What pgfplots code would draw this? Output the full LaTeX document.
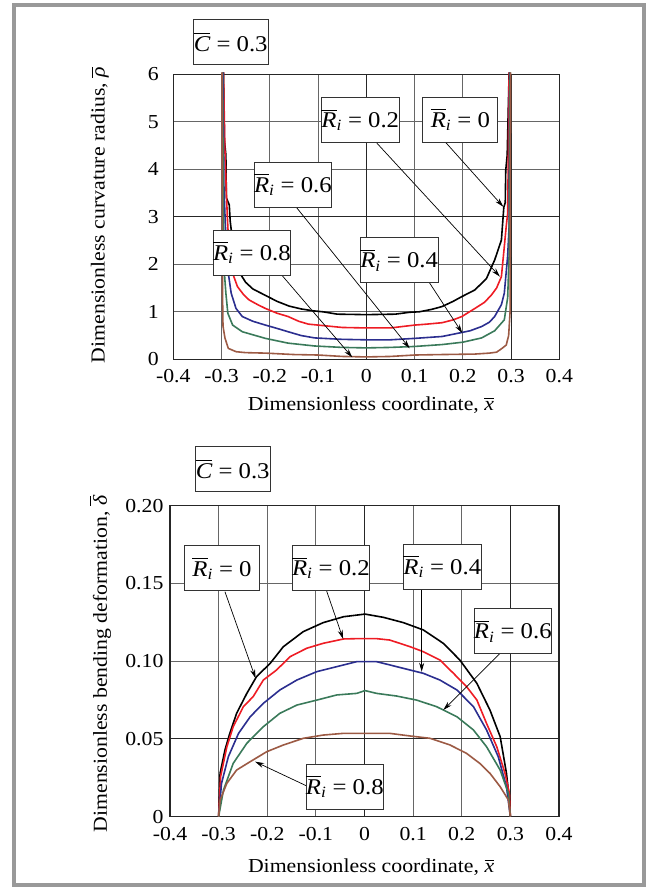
\documentclass[border=0pt]{standalone}
\usepackage{fontspec}
\setmainfont{Liberation Serif}[FakeStretch=1.1]
\usepackage{amsmath}
\usepackage{pgfplots}
\pgfplotsset{compat=1.18}
\usetikzlibrary{arrows.meta}

\definecolor{cred}{RGB}{238,28,36}
\definecolor{cblue}{RGB}{43,46,143}
\definecolor{cgreen}{RGB}{58,122,90}
\definecolor{cbrown}{RGB}{156,90,68}
\definecolor{frame}{RGB}{153,153,153}

\newcommand{\bigfont}{\fontsize{19.8}{22}\selectfont}
\newcommand{\boxfont}{\fontsize{22.5}{25}\selectfont}
\newcommand{\Ri}{$\overline{\text{\itshape R}}_{\text{\itshape i}}$}

\pgfplotsset{
  curves/.style={
    scale only axis,
    xmin=-0.4, xmax=0.4,
    xtick={-0.4,-0.3,-0.2,-0.1,0,0.1,0.2,0.3,0.4},
    xticklabels={-0.4,-0.3,-0.2,-0.1,0,0.1,0.2,0.3,0.4},
    grid=major,
    major grid style={black!60, line width=0.9pt},
    major tick length=0pt,
    axis line style={black!85, line width=1.3pt},
    tick label style={font=\bigfont},
    label style={font=\bigfont},
    xticklabel style={yshift=-7pt},
    clip=false,
  },
}
\tikzset{
  lbl/.style={draw=black!80, line width=0.8pt, fill=white, minimum width=75pt,
    minimum height=45pt, inner sep=0pt, font=\boxfont},
  arr/.style={-{Stealth[length=9pt,width=5pt]}, line width=0.7pt},
}

\begin{document}
\begin{tikzpicture}[x=1pt,y=1pt]
\useasboundingbox (0pt,0pt) rectangle (646pt,888pt);
\draw[frame, line width=4pt] (13.7pt,2.5pt) rectangle (643.5pt,882.7pt);

% ---- top: curvature radius
\begin{axis}[curves,
  at={(173.3pt,528.7pt)}, anchor=south west,
  width=386pt, height=285pt,
  ymin=0, ymax=6, ytick={0,1,2,3,4,5,6},
  yticklabels={0,1,2,3,4,5,6},
  yticklabel style={xshift=-11pt},
  xlabel={Dimensionless coordinate, $\overline{\text{\itshape x}}$},
  xlabel style={at={(axis description cs:0.512,-0.161)}, anchor=center},
  ylabel={Dimensionless curvature radius, $\overline{\text{\itshape ρ}}$},
  ylabel style={at={(axis description cs:-0.19,0.506)}, anchor=center},
]
\draw[black!85, line width=0.9pt] (axis cs:0,0) -- (axis cs:0,6);
\draw[black!85, line width=0.9pt] (axis cs:0.3,0) -- (axis cs:0.3,6);
\draw[black!85, line width=0.9pt] (axis cs:-0.4,3) -- (axis cs:0.4,3);
% R_i = 0
\addplot[black, line width=1.6pt] coordinates {
(-0.296,6.04) (-0.294,4.6) (-0.291,4.3) (-0.290,3.4) (-0.284,3.25) (-0.282,2.9)
(-0.276,2.4) (-0.268,2.0) (-0.26,1.78) (-0.25,1.62) (-0.235,1.48) (-0.21,1.35)
(-0.185,1.22) (-0.16,1.12) (-0.135,1.06) (-0.11,1.02) (-0.09,1.0) (-0.06,0.95)
(0,0.94) (0.06,0.95) (0.09,0.99) (0.11,1.0) (0.135,1.05) (0.157,1.11) (0.18,1.22)
(0.198,1.32) (0.225,1.46) (0.249,1.7) (0.266,2.09) (0.28,2.51) (0.285,3.2)
(0.288,3.3) (0.289,3.98) (0.292,4.3) (0.296,6.04)};
% R_i = 0.2
\addplot[cred, line width=1.6pt] coordinates {
(-0.296,6.04) (-0.293,4.4) (-0.29,3.5) (-0.288,3.0) (-0.285,2.4) (-0.28,2.0)
(-0.277,1.81) (-0.267,1.53) (-0.255,1.37) (-0.243,1.25) (-0.225,1.15)
(-0.209,1.07) (-0.185,0.97) (-0.162,0.9) (-0.14,0.8) (-0.12,0.74) (-0.1,0.72)
(-0.05,0.67) (0,0.66) (0.05,0.66) (0.1,0.72) (0.125,0.74) (0.157,0.77)
(0.18,0.83) (0.198,0.9) (0.225,1.07) (0.245,1.2) (0.259,1.35) (0.27,1.5)
(0.28,1.74) (0.286,2.37) (0.29,2.8) (0.293,3.07) (0.294,4.0) (0.296,6.04)};
% R_i = 0.4
\addplot[cblue, line width=1.6pt] coordinates {
(-0.297,6.04) (-0.295,3.6) (-0.292,2.8) (-0.289,2.2) (-0.285,1.74) (-0.28,1.39)
(-0.27,1.07) (-0.257,0.9) (-0.235,0.8) (-0.209,0.72) (-0.185,0.65) (-0.162,0.58)
(-0.135,0.5) (-0.107,0.45) (-0.05,0.42) (0,0.41) (0.05,0.41) (0.1,0.44)
(0.157,0.48) (0.191,0.55) (0.215,0.6) (0.239,0.69) (0.255,0.78) (0.266,0.9)
(0.28,1.15) (0.286,1.39) (0.293,2.18) (0.296,2.8) (0.297,6.04)};
% R_i = 0.6
\addplot[cgreen, line width=1.6pt] coordinates {
(-0.298,6.04) (-0.296,3.0) (-0.294,1.8) (-0.291,1.39) (-0.287,0.97)
(-0.277,0.72) (-0.257,0.58) (-0.209,0.44) (-0.162,0.34) (-0.107,0.28)
(-0.05,0.25) (0,0.24) (0.05,0.25) (0.1,0.27) (0.157,0.31) (0.2,0.36)
(0.239,0.45) (0.266,0.6) (0.286,0.83) (0.293,1.3) (0.296,2.2) (0.298,6.04)};
% R_i = 0.8
\addplot[cbrown, line width=1.6pt] coordinates {
(-0.299,6.04) (-0.298,1.4) (-0.297,0.7) (-0.293,0.45) (-0.286,0.23)
(-0.27,0.16) (-0.25,0.14) (-0.209,0.13) (-0.15,0.1) (-0.1,0.09) (-0.05,0.06)
(0,0.05) (0.05,0.06) (0.1,0.09) (0.157,0.1) (0.225,0.11) (0.255,0.13)
(0.27,0.15) (0.28,0.22) (0.29,0.3) (0.295,0.5) (0.298,1.0) (0.299,6.04)};

\draw[arr] (axis cs:0.022,4.55) -- (axis cs:0.277,1.74);
\draw[arr] (axis cs:0.165,4.56) -- (axis cs:0.284,3.21);
\draw[arr] (axis cs:-0.145,3.2) -- (axis cs:0.09,0.23);
\draw[arr] (axis cs:-0.175,1.77) -- (axis cs:-0.029,0.04);
\draw[arr] (axis cs:0.131,1.61) -- (axis cs:0.199,0.55);
\node[lbl] at (axis cs:-0.281,6.68) {$\overline{\text{\itshape C}}$ = 0.3};
\node[lbl] at (axis cs:-0.0125,5.04) {\Ri{} = 0.2};
\node[lbl] at (axis cs:0.195,5.05) {\Ri{} = 0};
\node[lbl] at (axis cs:-0.152,3.68) {\Ri{} = 0.6};
\node[lbl] at (axis cs:-0.237,2.25) {\Ri{} = 0.8};
\node[lbl] at (axis cs:0.068,2.09) {\Ri{} = 0.4};
\end{axis}

% ---- bottom: bending deformation
\begin{axis}[curves,
  at={(170pt,71.3pt)}, anchor=south west,
  width=389pt, height=311pt,
  ymin=0, ymax=0.2, ytick={0,0.05,0.1,0.15,0.2},
  yticklabels={0,0.05,0.10,0.15,0.20},
  yticklabel style={xshift=-3pt},
  xlabel={Dimensionless coordinate, $\overline{\text{\itshape x}}$},
  xlabel style={at={(axis description cs:0.517,-0.161)}, anchor=center},
  ylabel={Dimensionless bending deformation, $\overline{\text{\itshape δ}}$},
  ylabel style={at={(axis description cs:-0.18,0.491)}, anchor=center},
]
\draw[black!85, line width=0.9pt] (axis cs:0,0) -- (axis cs:0,0.2);
\draw[black!85, line width=0.9pt] (axis cs:0.3,0) -- (axis cs:0.3,0.2);
\draw[black!85, line width=0.9pt] (axis cs:-0.4,0.05) -- (axis cs:0.4,0.05);
% R_i = 0
\addplot[black, line width=1.6pt] coordinates {
(-0.3,0) (-0.297,0.0279) (-0.287,0.0429) (-0.277,0.0536) (-0.263,0.0665)
(-0.242,0.0793) (-0.222,0.0901) (-0.194,0.0986) (-0.167,0.1093) (-0.126,0.119)
(-0.085,0.1248) (-0.043,0.1286) (0.001,0.1303) (0.039,0.1282) (0.08,0.1248)
(0.121,0.1201) (0.162,0.1115) (0.196,0.1008) (0.231,0.0858) (0.258,0.0686)
(0.279,0.0515) (0.292,0.0279) (0.298,0.0107) (0.3,0)};
% R_i = 0.2
\addplot[cred, line width=1.6pt] coordinates {
(-0.3,0) (-0.296,0.0257) (-0.283,0.045) (-0.27,0.0579) (-0.249,0.0708)
(-0.229,0.0772) (-0.208,0.0879) (-0.181,0.0943) (-0.153,0.1029) (-0.119,0.1083)
(-0.085,0.1115) (-0.043,0.1143) (-0.016,0.1145) (0.025,0.1145) (0.052,0.1136)
(0.094,0.1093) (0.121,0.1061) (0.155,0.1008) (0.183,0.0922) (0.21,0.0836)
(0.231,0.0751) (0.251,0.06) (0.272,0.045) (0.289,0.0279) (0.298,0.015) (0.3,0)};
% R_i = 0.4
\addplot[cblue, line width=1.6pt] coordinates {
(-0.3,0) (-0.294,0.0215) (-0.28,0.0386) (-0.259,0.0536) (-0.235,0.0643)
(-0.208,0.0729) (-0.174,0.0815) (-0.139,0.0879) (-0.098,0.0933) (-0.057,0.0965)
(-0.016,0.0997) (0.025,0.0997) (0.052,0.0976) (0.094,0.0943) (0.121,0.0922)
(0.155,0.0879) (0.19,0.0815) (0.224,0.0708) (0.251,0.0558) (0.275,0.0386)
(0.292,0.0193) (0.3,0)};
% R_i = 0.6
\addplot[cgreen, line width=1.6pt] coordinates {
(-0.3,0) (-0.29,0.0172) (-0.27,0.0343) (-0.242,0.0472) (-0.208,0.0579)
(-0.174,0.0665) (-0.139,0.0718) (-0.098,0.075) (-0.057,0.0783) (-0.016,0.0793)
(0.001,0.0811) (0.025,0.0793) (0.066,0.0776) (0.107,0.075) (0.148,0.0708)
(0.19,0.0643) (0.224,0.0558) (0.251,0.045) (0.279,0.03) (0.296,0.015) (0.3,0)};
% R_i = 0.8
\addplot[cbrown, line width=1.6pt] coordinates {
(-0.3,0) (-0.297,0.0107) (-0.283,0.0215) (-0.263,0.03) (-0.235,0.0354)
(-0.201,0.0418) (-0.167,0.0461) (-0.126,0.0504) (-0.085,0.0525) (-0.043,0.0536)
(0.052,0.0536) (0.094,0.0519) (0.135,0.0504) (0.176,0.0461) (0.21,0.0407)
(0.237,0.0343) (0.258,0.0279) (0.279,0.0193) (0.296,0.0107) (0.3,0)};

\draw[arr] (axis cs:-0.287,0.1447) -- (axis cs:-0.224,0.089);
\draw[arr] (axis cs:-0.078,0.1453) -- (axis cs:-0.044,0.1143);
\draw[arr] (axis cs:0.1176,0.1458) -- (axis cs:0.1176,0.0932);
\draw[arr] (axis cs:0.2787,0.105) -- (axis cs:0.162,0.0686);
\draw[arr] (axis cs:-0.1156,0.0193) -- (axis cs:-0.225,0.0354);
\node[lbl] at (axis cs:-0.271,0.2236) {$\overline{\text{\itshape C}}$ = 0.3};
\node[lbl] at (axis cs:-0.293,0.1597) {\Ri{} = 0};
\node[lbl] at (axis cs:-0.069,0.160) {\Ri{} = 0.2};
\node[lbl] at (axis cs:0.160,0.1608) {\Ri{} = 0.4};
\node[lbl] at (axis cs:0.305,0.1194) {\Ri{} = 0.6};
\node[lbl] at (axis cs:-0.0405,0.0194) {\Ri{} = 0.8};
\end{axis}
\end{tikzpicture}
\end{document}
